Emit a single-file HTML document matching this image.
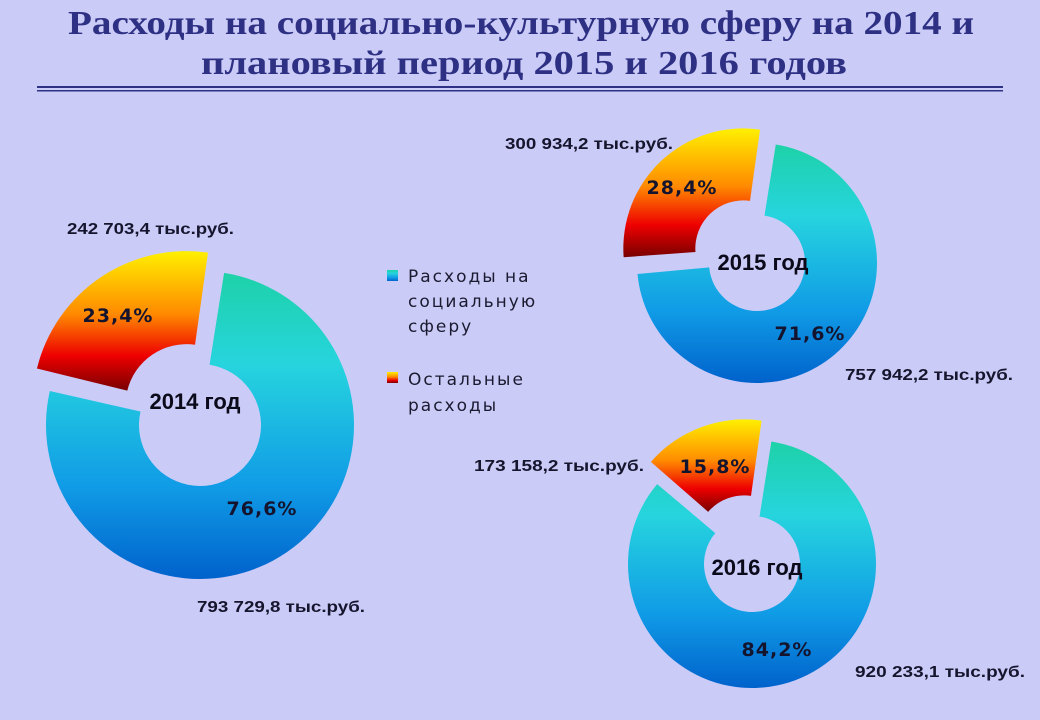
<!DOCTYPE html>
<html><head><meta charset="utf-8"><style>
html,body{margin:0;padding:0;background:#cbcbf7;}
svg{display:block;}
.lbl{font-family:"Liberation Sans",sans-serif;font-size:16px;font-weight:bold;fill:#15152e;}
.pct{font-family:"DejaVu Sans",sans-serif;font-size:19px;font-weight:bold;fill:#14142e;letter-spacing:1px;}
.yr{font-family:"Liberation Sans",sans-serif;font-size:22px;font-weight:bold;fill:#0a0a1a;}
.leg{font-family:"DejaVu Sans",sans-serif;font-size:17px;fill:#1a1a30;letter-spacing:2px;}
.ttl{font-family:"Liberation Serif",serif;font-size:34px;font-weight:bold;fill:#2e3084;}
</style></head><body>
<svg id="chart" width="1040" height="720" viewBox="0 0 1040 720">
<defs>
<linearGradient id="gBlue" x1="0" y1="0" x2="0" y2="1">
<stop offset="0" stop-color="#1ed2a8"/><stop offset="0.3" stop-color="#26d4de"/><stop offset="0.7" stop-color="#109be6"/><stop offset="1" stop-color="#0062cc"/>
</linearGradient>
<linearGradient id="gOrange" x1="0" y1="0" x2="0" y2="1">
<stop offset="0" stop-color="#fff000"/><stop offset="0.45" stop-color="#ff8a00"/><stop offset="0.75" stop-color="#ee0000"/><stop offset="1" stop-color="#780000"/>
</linearGradient>
</defs>
<rect x="0" y="0" width="1040" height="720" fill="#cbcbf7"/>
<g>
<text class="ttl" x="521" y="34" text-anchor="middle" textLength="906" lengthAdjust="spacingAndGlyphs">Расходы на социально-культурную сферу на 2014 и</text>
<text class="ttl" x="524" y="74" text-anchor="middle" textLength="646" lengthAdjust="spacingAndGlyphs">плановый период 2015 и 2016 годов</text>
</g>
<rect x="37" y="86" width="966" height="2" fill="#2e3084"/>
<rect x="37" y="90" width="966" height="1.5" fill="#2e3084"/>
<g id="donuts"></g>
<g>
<rect x="387" y="270" width="11" height="11" fill="url(#gBlue)"/>
<text class="leg" x="408" y="282">Расходы на</text>
<text class="leg" x="408" y="307">социальную</text>
<text class="leg" x="408" y="332">сферу</text>
<rect x="387" y="372" width="11" height="11" fill="url(#gOrange)"/>
<text class="leg" x="408" y="385">Остальные</text>
<text class="leg" x="408" y="411">расходы</text>
</g>
</svg>
<script>
var years = ["2014 год", "2015 год", "2016 год"];
var socialShare = [76.6, 71.6, 84.2];
var otherShare = [23.4, 28.4, 15.8];
var socialLabels = ["76,6%", "71,6%", "84,2%"];
var otherLabels = ["23,4%", "28,4%", "15,8%"];
var socialAmounts = ["793 729,8 тыс.руб.", "757 942,2 тыс.руб.", "920 233,1 тыс.руб."];
var otherAmounts = ["242 703,4 тыс.руб.", "300 934,2 тыс.руб.", "173 158,2 тыс.руб."];

var layout = [
  {cx:200, cy:425, r:154, ri:61, ex:24, sa:[262,515], oa:[118,322], amtS:[197,612,168], amtO:[67,234,167]},
  {cx:757, cy:263, r:120, ri:48, ex:20, sa:[810,340], oa:[682,194], amtS:[845,380,168], amtO:[505,149,168]},
  {cx:752, cy:564, r:124, ri:48, ex:22, sa:[777,656], oa:[715,473], amtS:[855,677,170], amtO:[474,471,170]}
];
var NS = "http://www.w3.org/2000/svg";
var root = document.getElementById("donuts");
function pt(cx, cy, r, a){ var t = a*Math.PI/180; return [cx + r*Math.sin(t), cy - r*Math.cos(t)]; }
function arc(cx, cy, r, ri, a0, a1){
  var p0=pt(cx,cy,r,a0), p1=pt(cx,cy,r,a1), q1=pt(cx,cy,ri,a1), q0=pt(cx,cy,ri,a0);
  var lg = (a1-a0)>180?1:0;
  return "M"+p0+" A"+r+","+r+" 0 "+lg+" 1 "+p1+" L"+q1+" A"+ri+","+ri+" 0 "+lg+" 0 "+q0+" Z";
}
function txt(cls, x, y, s, anchor, len){
  var t=document.createElementNS(NS,"text");
  t.setAttribute("class",cls); t.setAttribute("x",x); t.setAttribute("y",y);
  if(anchor) t.setAttribute("text-anchor",anchor);
  if(len){ t.setAttribute("textLength",len); t.setAttribute("lengthAdjust","spacingAndGlyphs"); }
  t.textContent=s; return t;
}
for (var i=0;i<years.length;i++){
  var L=layout[i], start=8;
  var total=socialShare[i]+otherShare[i];
  var aEnd=start+360*socialShare[i]/total;
  var g=document.createElementNS(NS,"g");
  
  
  var b=document.createElementNS(NS,"path");
  b.setAttribute("d",arc(L.cx,L.cy,L.r,L.ri,start+1,aEnd-1));
  b.setAttribute("fill","url(#gBlue)");
  
  
  g.appendChild(b);
  var mid=(aEnd+start+360)/2, off=pt(0,0,L.ex,mid);
  var o=document.createElementNS(NS,"path");
  o.setAttribute("d",arc(L.cx+off[0],L.cy+off[1],L.r,L.ri,aEnd,start+360));
  o.setAttribute("fill","url(#gOrange)");
  
  
  g.appendChild(o);
  var t1=txt("pct",L.sa[0],L.sa[1],socialLabels[i],"middle");
  
  
  g.appendChild(t1);
  var t2=txt("pct",L.oa[0],L.oa[1],otherLabels[i],"middle");
  
  
  g.appendChild(t2);
  var ty=txt("yr",(i==0?195:(i==1?763:757)),L.cy-(i==0?16:-7)+ (i==2?4:0),years[i],"middle");
  
  
  g.appendChild(ty);
  var a1=txt("lbl",L.amtS[0],L.amtS[1],socialAmounts[i],null,L.amtS[2]);
  
  
  g.appendChild(a1);
  var a2=txt("lbl",L.amtO[0],L.amtO[1],otherAmounts[i],null,L.amtO[2]);
  
  
  g.appendChild(a2);
  root.appendChild(g);
}
</script>
</body></html>
